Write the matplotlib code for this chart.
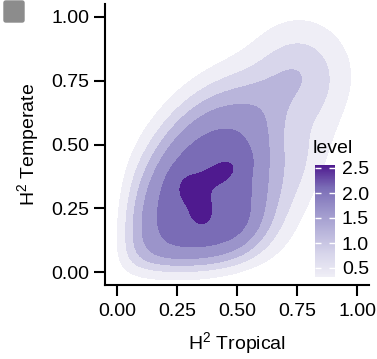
import numpy as np
import matplotlib
matplotlib.use("Agg")
import matplotlib.pyplot as plt
from matplotlib.colors import LinearSegmentedColormap, Normalize
from matplotlib.colorbar import ColorbarBase
from matplotlib.patches import FancyBboxPatch

plt.rcParams['font.family'] = ['Liberation Sans', 'DejaVu Sans']
plt.rcParams['mathtext.fontset'] = 'custom'
plt.rcParams['mathtext.rm'] = 'Liberation Sans'
plt.rcParams['mathtext.default'] = 'regular'

# --- data: density surface read off the picture as a few bumps ---
# body, upper-right tail, right flank, lower-right flank, three core lobes
comp_amp = [2.33, 1.10, 0.55, 0.50, 0.37, 0.31, 0.35]
comp_mx = [0.36, 0.76, 0.78, 0.58, 0.43, 0.30, 0.35]
comp_my = [0.31, 0.78, 0.42, 0.15, 0.39, 0.33, 0.24]
comp_sx = [0.245, 0.13, 0.09, 0.10, 0.065, 0.05, 0.042]
comp_sy = [0.31, 0.13, 0.17, 0.10, 0.045, 0.05, 0.055]
comp_rho = [0.42, 0.00, 0.60, 0.30, 0.50, 0.00, 0.00]
comp_flat = [2.0, 1.0, 1.0, 1.0, 1.0, 1.0, 1.0]
# soft lower bounds (heritability cannot go below zero)
edge_x, edge_y, edge_soft = 0.008, 0.012, 0.03

levels = [0.32, 0.77, 1.22, 1.66, 2.11, 2.56]
band_colors = ['#efeef6', '#d8d6eb', '#b9b5db', '#9b94ca', '#7a6cb6', '#4f1a8f']
legend_ticks = [0.5, 1.0, 1.5, 2.0, 2.5]
axis_ticks = [0.00, 0.25, 0.50, 0.75, 1.00]

# --- density grid ---
gx = np.linspace(-0.1, 1.1, 400)
gy = np.linspace(-0.1, 1.1, 400)
X, Y = np.meshgrid(gx, gy)
Z = np.zeros_like(X)
for a, mx, my, sx, sy, r, k in zip(comp_amp, comp_mx, comp_my, comp_sx,
                                   comp_sy, comp_rho, comp_flat):
    dx = (X - mx) / sx
    dy = (Y - my) / sy
    q = (dx**2 - 2 * r * dx * dy + dy**2) / (1 - r**2)
    Z += a * np.exp(-(q / 2) ** k)
Z *= 1 / (1 + np.exp(-(X - edge_x) / edge_soft))
Z *= 1 / (1 + np.exp(-(Y - edge_y) / edge_soft))

W, H = 377, 359
fig = plt.figure(figsize=(W / 100, H / 100), dpi=100)
ax = fig.add_axes([105 / W, (H - 285) / H, 264 / W, 281 / H])

ax.contourf(X, Y, Z, levels=levels + [Z.max() + 1], colors=band_colors)

ax.set_xlim(-0.05, 1.05)
ax.set_ylim(-0.05, 1.05)
ax.set_xticks(axis_ticks)
ax.set_yticks(axis_ticks)
ax.set_xticklabels(['%.2f' % t for t in axis_ticks])
ax.set_yticklabels(['%.2f' % t for t in axis_ticks])
for s in ['top', 'right']:
    ax.spines[s].set_visible(False)
for s in ['left', 'bottom']:
    ax.spines[s].set_linewidth(1.5)
ax.tick_params(length=8, width=1.5, labelsize=14, pad=3, colors='black')
ax.tick_params(axis='x', pad=5)
ax.set_xlabel('H$^{2}$ Tropical', fontsize=14, labelpad=7)
ax.set_ylabel('H$^{2}$ Temperate', fontsize=14, labelpad=8)

# legend colorbar
cmap = LinearSegmentedColormap.from_list(
    'lv', list(zip([(l - levels[0]) / (levels[-1] - levels[0]) for l in levels], band_colors)))
cax = fig.add_axes([315 / W, (H - 277) / H, 20 / W, 112 / H])
cb = ColorbarBase(cax, cmap=cmap, norm=Normalize(levels[0], levels[-1]))
cb.outline.set_visible(False)
cb.set_ticks(legend_ticks)
cax.yaxis.set_ticks_position('both')
cax.tick_params(axis='y', direction='in', length=4, width=1, color='white',
                labelsize=14, pad=5, labelleft=False, labelright=True)
fig.text(313 / W, (H - 157) / H, 'level', fontsize=14, va='bottom', ha='left')

# grey tag in the corner
fig.patches.append(FancyBboxPatch((4 / W, (H - 22) / H), 20 / W, 21 / H,
                                  boxstyle='round,pad=0,rounding_size=0.005',
                                  transform=fig.transFigure, color='#8c8c8c'))

fig.savefig('out.png', dpi=100)
